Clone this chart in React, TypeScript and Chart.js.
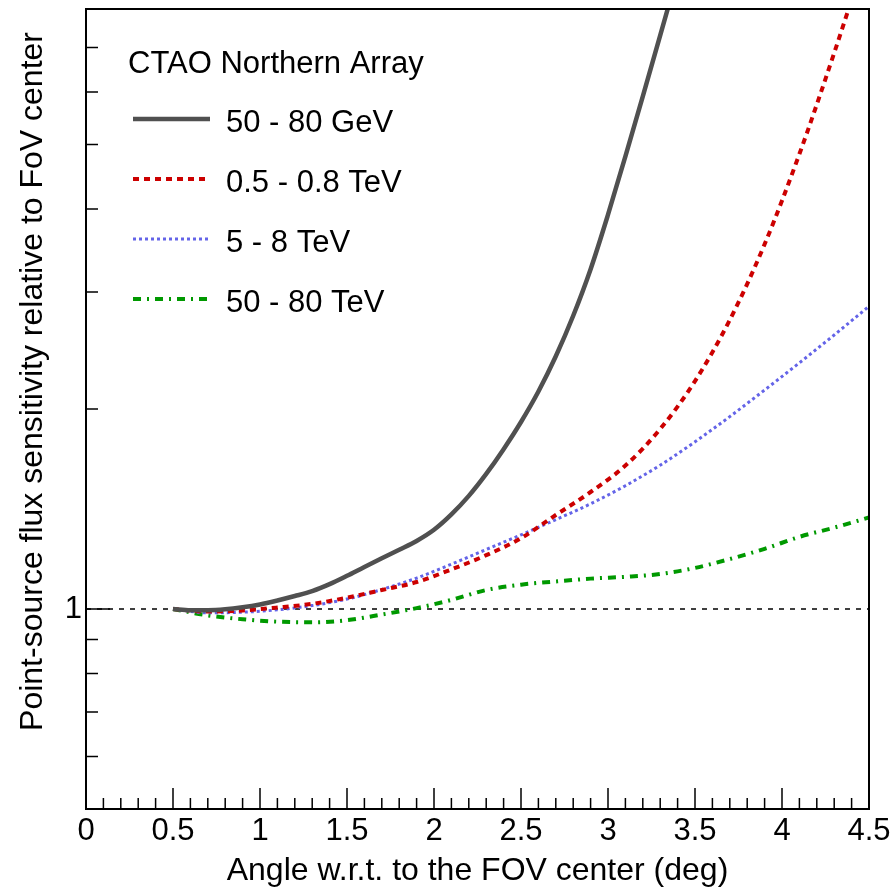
import React, { useEffect, useRef } from "react";
import { Chart, registerables } from "chart.js";

Chart.register(...registerables);

// ---- Texts ----
const LEGEND_TITLE = "CTAO Northern Array";
const X_TITLE = "Angle w.r.t. to the FOV center (deg)";
const Y_TITLE = "Point-source flux sensitivity relative to FoV center";
const seriesLabels = ["50 - 80 GeV", "0.5 - 0.8 TeV", "5 - 8 TeV", "50 - 80 TeV"];

// ---- Data ----
const angle50GeV = [0.5, 0.6, 0.7, 0.8, 0.9, 1.0, 1.1, 1.2, 1.3, 1.4, 1.5, 1.6, 1.7, 1.8, 1.9, 2.0, 2.1, 2.2, 2.3, 2.4, 2.5, 2.6, 2.7, 2.8, 2.9, 3.0, 3.1, 3.2, 3.3, 3.4];
const sens50GeV = [1.0, 0.996, 0.996, 0.999, 1.006, 1.016, 1.03, 1.046, 1.064, 1.09, 1.122, 1.157, 1.192, 1.228, 1.266, 1.316, 1.388, 1.48, 1.597, 1.74, 1.912, 2.125, 2.401, 2.763, 3.247, 3.922, 4.8, 5.91, 7.3, 9.03];

const angle05TeV = [0.5, 0.7, 0.9, 1.1, 1.3, 1.5, 1.7, 1.9, 2.1, 2.3, 2.5, 2.7, 2.9, 3.1, 3.3, 3.5, 3.7, 3.9, 4.1, 4.3, 4.4];
const sens05TeV = [1.0, 0.991, 0.995, 1.005, 1.018, 1.04, 1.068, 1.098, 1.147, 1.205, 1.278, 1.385, 1.5, 1.644, 1.866, 2.203, 2.723, 3.54, 4.84, 6.87, 8.26];

const angleTeV = [0.5, 0.7, 0.9, 1.1, 1.3, 1.5, 1.7, 1.9, 2.1, 2.3, 2.5, 2.7, 2.9, 3.1, 3.3, 3.5, 3.7, 3.9, 4.1, 4.3, 4.5];
const sens5TeV = [1.0, 0.987, 0.989, 0.997, 1.012, 1.035, 1.07, 1.113, 1.168, 1.229, 1.293, 1.363, 1.44, 1.533, 1.646, 1.785, 1.948, 2.136, 2.347, 2.585, 2.855];
const sens50TeV = [1.0, 0.978, 0.965, 0.957, 0.955, 0.962, 0.981, 1.003, 1.032, 1.068, 1.088, 1.1, 1.111, 1.118, 1.129, 1.153, 1.189, 1.232, 1.284, 1.326, 1.373];

const refLineX = [0, 4.5];
const refLineY = [1, 1];

// ---- Axes ----
const xRange = [0, 4.5];
const yRange = [0.5, 8];
const xMajorTicks = [0, 0.5, 1, 1.5, 2, 2.5, 3, 3.5, 4, 4.5];
const yLabelTicks = [1];
const yMinorTicks = [0.6, 0.7, 0.8, 0.9, 2, 3, 4, 5, 6, 7];

const FONT = "'Liberation Sans', Arial, Helvetica, sans-serif";

function toPoints(xs: number[], ys: number[]) {
  return xs.map((x, i) => ({ x, y: ys[i] }));
}

const rootStylePlugin = {
  id: "rootStyle",
  afterDraw(chart: any) {
    const { ctx, chartArea: a, scales } = chart;
    const xs = scales.x;
    const ys = scales.y;
    ctx.save();
    ctx.strokeStyle = "#000";
    ctx.setLineDash([]);
    // x ticks (inward)
    ctx.lineWidth = 1.5;
    ctx.beginPath();
    for (let i = 0; i <= 45; i++) {
      const v = i / 10;
      const px = xs.getPixelForValue(v);
      const major = xMajorTicks.some((t) => Math.abs(t - v) < 1e-6);
      const len = major ? 21 : 11;
      ctx.moveTo(px, a.bottom);
      ctx.lineTo(px, a.bottom - len);
    }
    yMinorTicks.forEach((v) => {
      const py = ys.getPixelForValue(v);
      ctx.moveTo(a.left, py);
      ctx.lineTo(a.left + 12, py);
    });
    yLabelTicks.forEach((v) => {
      const py = ys.getPixelForValue(v);
      ctx.moveTo(a.left, py);
      ctx.lineTo(a.left + 24, py);
    });
    ctx.stroke();
    // frame
    ctx.lineWidth = 2;
    ctx.strokeRect(a.left, a.top, a.right - a.left, a.bottom - a.top);

    // y title (rotated, right-aligned toward the top)
    ctx.save();
    ctx.translate(42, a.top + 23);
    ctx.rotate(-Math.PI / 2);
    ctx.font = `32px ${FONT}`;
    ctx.fillStyle = "#000";
    ctx.textAlign = "right";
    ctx.textBaseline = "alphabetic";
    ctx.fillText(Y_TITLE, 0, 0);
    ctx.restore();

    // legend
    ctx.font = `31px ${FONT}`;
    ctx.fillStyle = "#000";
    ctx.textAlign = "left";
    ctx.textBaseline = "alphabetic";
    ctx.fillText(LEGEND_TITLE, a.left + 42, a.top + 64);
    for (let i = 0; i < seriesLabels.length; i++) {
      const ds = chart.data.datasets[i];
      const y = a.top + 110 + 60 * i;
      ctx.save();
      ctx.strokeStyle = ds.borderColor;
      ctx.lineWidth = ds.borderWidth;
      ctx.setLineDash(ds.borderDash || []);
      ctx.beginPath();
      ctx.moveTo(a.left + 47, y);
      ctx.lineTo(a.left + 124, y);
      ctx.stroke();
      ctx.restore();
      ctx.fillText(ds.label, a.left + 140, y + 13);
    }
    ctx.restore();
  },
};

export default function App() {
  const ref = useRef<HTMLCanvasElement>(null);
  useEffect(() => {
    if (!ref.current) return;
    const common = {
      fill: false,
      pointRadius: 0,
      cubicInterpolationMode: "monotone" as const,
      clip: 0,
    };
    const chart = new Chart(ref.current, {
      type: "line",
      data: {
        datasets: [
          { ...common, label: seriesLabels[0], data: toPoints(angle50GeV, sens50GeV), borderColor: "#505050", borderWidth: 4.5, borderDash: [] },
          { ...common, label: seriesLabels[1], data: toPoints(angle05TeV, sens05TeV), borderColor: "#cc0000", borderWidth: 4, borderDash: [6, 5] },
          { ...common, label: seriesLabels[2], data: toPoints(angleTeV, sens5TeV), borderColor: "#6464e8", borderWidth: 3, borderDash: [3, 3] },
          { ...common, label: seriesLabels[3], data: toPoints(angleTeV, sens50TeV), borderColor: "#009900", borderWidth: 4, borderDash: [8, 6, 2, 6] },
          { ...common, label: "", data: toPoints(refLineX, refLineY), borderColor: "#000", borderWidth: 1.6, borderDash: [5, 6], cubicInterpolationMode: "default" as const },
        ],
      },
      options: {
        animation: false,
        responsive: false,
        maintainAspectRatio: false,
        devicePixelRatio: 1,
        layout: { padding: { left: 0, top: 9, right: 27, bottom: 0 } },
        plugins: { legend: { display: false }, tooltip: { enabled: false }, title: { display: false } },
        elements: { point: { radius: 0 }, line: { tension: 0 } },
        scales: {
          x: {
            type: "linear",
            min: xRange[0],
            max: xRange[1],
            afterFit: (s: any) => {
              s.height = 85;
              s.paddingLeft = 0;
              s.paddingRight = 0;
              s.paddingTop = 0;
              s.paddingBottom = 0;
            },
            afterBuildTicks: (s: any) => { s.ticks = xMajorTicks.map((v) => ({ value: v })); },
            grid: { display: false, drawTicks: false },
            border: { display: false },
            ticks: {
              padding: 4,
              color: "#000",
              autoSkip: false,
              maxRotation: 0,
              font: { family: FONT, size: 31 },
              callback: (v: any) => String(v),
            },
            title: {
              display: true,
              text: X_TITLE,
              color: "#000",
              font: { family: FONT, size: 32 },
              padding: { top: 0, bottom: 4 },
            },
          },
          y: {
            type: "logarithmic",
            min: yRange[0],
            max: yRange[1],
            afterFit: (s: any) => {
              s.width = 86;
              s.paddingLeft = 0;
              s.paddingRight = 0;
              s.paddingTop = 0;
              s.paddingBottom = 0;
            },
            afterBuildTicks: (s: any) => { s.ticks = yLabelTicks.map((v) => ({ value: v })); },
            grid: { display: false, drawTicks: false },
            border: { display: false },
            ticks: {
              padding: 4,
              color: "#000",
              font: { family: FONT, size: 31 },
              callback: (v: any) => String(v),
            },
          },
        },
      },
      plugins: [rootStylePlugin],
    } as any);
    return () => chart.destroy();
  }, []);
  return (
    <div style={{ position: "fixed", left: 0, top: 0, width: 896, height: 894, background: "#fff" }}>
      <canvas ref={ref} width={896} height={894} style={{ width: 896, height: 894, display: "block" }} />
    </div>
  );
}
